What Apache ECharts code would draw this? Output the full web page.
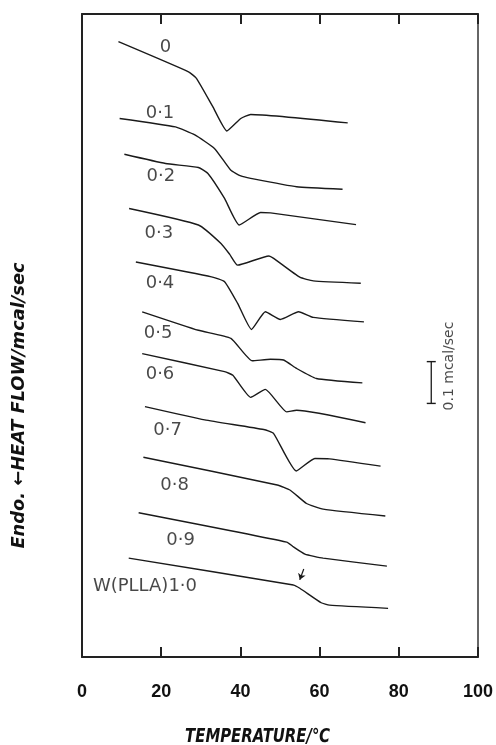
<!DOCTYPE html>
<html>
<head>
<meta charset="utf-8">
<script src="https://cdn.jsdelivr.net/npm/echarts@6.0.0/dist/echarts.min.js"></script>
<style>
html,body{margin:0;padding:0;background:#fff;}
#chart{width:496px;height:745px;}
</style>
</head>
<body>
<div id="chart"></div>
<script>
// ---- data (temperature in °C, heat flow in units of 0.01 mcal/sec, offset curves) ----
const xTicks = [0, 20, 40, 60, 80, 100];
const curveNames = ["0", "0·1", "0·2", "0·3", "0·4", "0·5", "0·6", "0·7", "0·8", "0·9", "W(PLLA)1·0"];

const w00 = [[9.2,153.1],[26.9,145.6],[28.9,144.0],[33.0,137.0],[36.6,130.9],[40.1,134.0],[42.6,135.0],[67.1,132.9]];
const w01 = [[9.5,134.0],[23.6,131.9],[28.5,129.9],[33.5,126.5],[37.6,121.1],[40.1,119.7],[42.6,119.1],[54.2,117.0],[65.8,116.4]];
const w02 = [[10.7,125.1],[21.1,122.8],[29.4,121.8],[31.8,120.3],[36.0,114.1],[39.7,107.5],[45.1,110.6],[47.6,110.5],[69.2,107.6]];
const w03 = [[11.9,111.6],[29.4,107.5],[35.1,102.9],[37.3,100.2],[39.3,97.5],[47.2,99.8],[48.4,99.2],[55.0,94.5],[58.4,93.6],[70.4,93.0]];
const w04 = [[13.6,98.3],[32.7,94.6],[36.0,93.4],[39.3,88.0],[42.8,81.5],[46.3,85.9],[50.1,84.0],[54.7,85.9],[58.4,84.5],[71.2,83.4]];
const w05 = [[15.2,85.9],[29.4,81.3],[37.6,79.3],[43.0,73.7],[47.6,74.1],[50.9,73.9],[54.2,71.8],[59.2,69.3],[70.8,68.2]];
const w06 = [[15.2,75.5],[36.0,71.0],[38.1,70.1],[42.6,64.6],[46.3,66.6],[51.7,61.0],[54.2,61.4],[71.6,58.3]];
const w07 = [[15.9,62.3],[31.0,59.0],[45.9,56.6],[48.4,55.6],[54.1,46.3],[58.8,49.4],[62.5,49.3],[75.4,47.5]];
const w08 = [[15.5,49.7],[49.3,42.8],[52.6,41.5],[56.7,38.2],[60.9,36.8],[76.6,35.1]];
const w09 = [[14.3,35.9],[51.7,28.6],[53.4,27.4],[56.3,25.6],[60.9,24.6],[77.0,22.6]];
const w10 = [[11.8,24.6],[53.4,17.9],[55.0,17.1],[60.4,13.5],[62.5,12.9],[77.3,12.1]];
const curves = [w00, w01, w02, w03, w04, w05, w06, w07, w08, w09, w10];

// curve label anchors (T, heat flow)
const labelT = [21.1, 19.7, 19.9, 19.4, 19.7, 19.2, 19.7, 21.6, 23.4, 24.9, 15.9];
const labelY = [151.7, 135.3, 119.7, 105.5, 93.0, 80.6, 70.4, 56.5, 42.8, 29.1, 17.7];

// scale bar: 0.1 mcal/sec
const scaleBar = [[88.2, 63.1], [88.2, 73.5]];
const scaleText = "0.1 mcal/sec";
const scaleTextPos = [92.8, 72.4];

// Tg arrow on the W(PLLA)=1.0 curve
const arrowCoords = [[56.0, 21.9], [55.0, 19.2]];

const xTitle = "TEMPERATURE/℃";
const yTitle = "Endo. ←HEAT FLOW/mcal/sec";

// ---- chart ----
const ink = '#1a1a1a';
const chart = echarts.init(document.getElementById('chart'), null, {renderer: 'canvas'});

const series = curves.map((c, i) => ({
  name: curveNames[i], type: 'line', data: c, showSymbol: false, smooth: 0.15,
  lineStyle: {color: ink, width: 1.4}, silent: true
}));

series.push({
  type: 'scatter', symbolSize: 0, silent: true,
  data: labelT.map((t, i) => [t, labelY[i]]),
  label: {show: true, position: 'inside', formatter: p => curveNames[p.dataIndex],
    fontFamily: 'DejaVu Sans', fontWeight: 'normal', fontSize: 18, color: '#1a1a1a'}
});
series.push({
  type: 'line', data: scaleBar, symbol: 'rect', symbolSize: [9, 1.4], showSymbol: true, showAllSymbol: true,
  lineStyle: {color: ink, width: 1.3}, itemStyle: {color: ink}, silent: true
});
series.push({
  type: 'scatter', symbolSize: 0, silent: true, data: [scaleTextPos],
  label: {show: true, position: 'inside', rotate: 90, formatter: scaleText,
    fontFamily: 'DejaVu Sans', fontWeight: 'normal', fontSize: 14, color: '#1a1a1a'}
});
series.push({
  type: 'lines', coordinateSystem: 'cartesian2d', silent: true,
  data: [{coords: arrowCoords}],
  symbol: ['none', 'arrow'], symbolSize: 6,
  lineStyle: {color: ink, width: 1.2, opacity: 1}
});

const axisLineStyle = {color: '#222', width: 2};
chart.setOption({
  animation: false,
  backgroundColor: '#fff',
  grid: {left: 82, right: 12, top: 14, bottom: 88},
  xAxis: [
    {type: 'value', min: xTicks[0], max: xTicks[xTicks.length - 1], interval: 20, position: 'bottom',
     axisLine: {show: true, onZero: false, lineStyle: axisLineStyle},
     axisTick: {show: true, inside: true, length: 10, lineStyle: {color: '#222', width: 2}},
     axisLabel: {margin: 26, fontFamily: 'Liberation Sans', fontWeight: 'bold', fontSize: 18, color: '#111'},
     splitLine: {show: false}},
    {type: 'value', min: xTicks[0], max: xTicks[xTicks.length - 1], interval: 20, position: 'top',
     axisLine: {show: true, onZero: false, lineStyle: axisLineStyle},
     axisTick: {show: true, inside: true, length: 10, lineStyle: {color: '#222', width: 2}},
     axisLabel: {show: false}, splitLine: {show: false}}
  ],
  yAxis: [
    {type: 'value', min: 0, max: 160, position: 'left',
     axisLine: {show: true, onZero: false, lineStyle: axisLineStyle},
     axisTick: {show: false}, axisLabel: {show: false}, splitLine: {show: false}},
    {type: 'value', min: 0, max: 160, position: 'right',
     axisLine: {show: true, onZero: false, lineStyle: {color: '#333', width: 1.5}},
     axisTick: {show: false}, axisLabel: {show: false}, splitLine: {show: false}}
  ],
  graphic: [
    {type: 'text', x: 257.5, y: 737, scaleX: 0.87, silent: true,
     style: {text: xTitle, fontFamily: 'DejaVu Sans Condensed', fontWeight: 'bold', fontStyle: 'italic',
       fontSize: 19, fill: '#111', align: 'center', verticalAlign: 'middle'}},
    {type: 'text', x: 19, y: 405.5, rotation: Math.PI / 2, scaleX: 1.1, silent: true,
     style: {text: yTitle, fontFamily: 'DejaVu Sans Condensed', fontWeight: 'bold', fontStyle: 'italic',
       fontSize: 18, fill: '#111', align: 'center', verticalAlign: 'middle'}}
  ],
  series: series
});
</script>
</body>
</html>
